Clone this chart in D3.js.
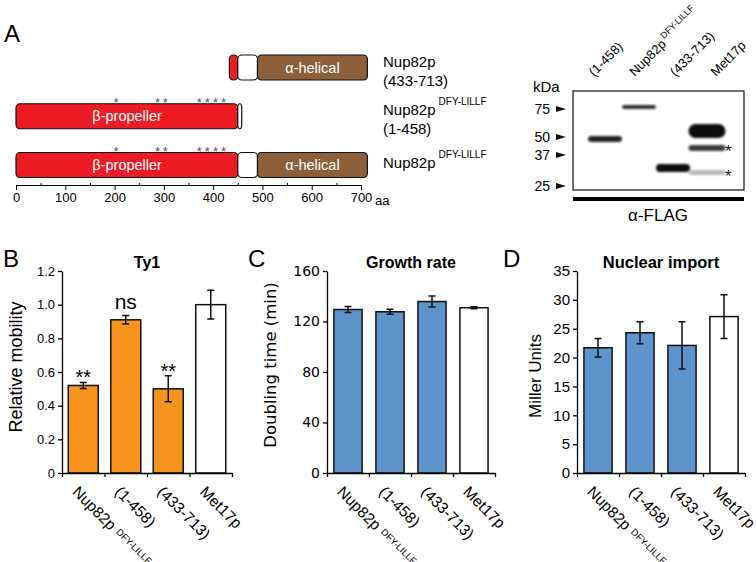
<!DOCTYPE html>
<html><head><meta charset="utf-8">
<script src="https://cdn.jsdelivr.net/npm/d3@7"></script>
<style>
body{margin:0;background:#fff;}
svg{display:block;font-family:"Liberation Sans",Arial,sans-serif;}
</style></head><body>
<svg id="fig" width="756" height="562"></svg>
<script>
// ================= DATA =================
// Panel A: domain architecture
const aaTicks = [0,100,200,300,400,500,600,700];
const aaMinorTicks = [50,150,250,350,450,550,650];
const constructRows = [0,1,2];
const domainRow   = [0,0,0,1,1,2,2,2];
const domainType  = ["propeller","linker","helical","propeller","linker","propeller","linker","helical"];
const domainStart = [433,450,490,1,450,1,450,490];
const domainEnd   = [450,490,713,450,458,450,490,713];
const domainLabel = ["","","α-helical","β-propeller","","β-propeller","","α-helical"];
const mutationSites = [203,287,303,372,388,405,421];
const mutationRows = [1,2];
const rowLabelLine1 = ["Nup82p","Nup82p","Nup82p"];
const rowLabelSup   = ["","DFY-LILLF","DFY-LILLF"];
const rowLabelLine2 = ["(433-713)","(1-458)",""];

// Panel A: western blot
const lanes = ["(1-458)","Nup82p","(433-713)","Met17p"];
const laneSup = ["","DFY-LILLF","",""];
const markerKDa = [75,50,37,25];
const bandLane    = [0,1,2,3,3,3];
const bandHighKDa = [50.7,79.4,33.0,60.4,43.7,30.6];
const bandLowKDa  = [46.0,75.0,29.8,49.2,39.6,28.7];
const bandSignal  = [0.9,0.85,1.0,1.0,0.8,0.28];
const bandStar    = [false,false,false,false,true,true];

// Panels B-D
const categories = ["Nup82p","(1-458)","(433-713)","Met17p"];
const categorySup = ["DFY-LILLF","","",""];
const isControl = [false,false,false,true];

const ty1Values = [0.52,0.91,0.50,1.00];
const ty1Errors = [0.018,0.025,0.077,0.085];
const ty1Sig    = ["**","ns","**",""];
const ty1Ticks  = [0,0.2,0.4,0.6,0.8,1.0,1.2];

const growthValues = [129.5,127.7,135.8,130.9];
const growthErrors = [2.4,2.0,4.3,0.8];
const growthTicks  = [0,40,80,120,160];

const importValues = [21.7,24.3,22.1,27.1];
const importErrors = [1.6,1.9,4.1,3.8];
const importTicks  = [0,5,10,15,20,25,30,35];

// ================= DRAW =================
const svg = d3.select("#fig");
const RED="#ED1C24", BROWN="#8D5F3B", ORANGE="#F7941D", BLUE="#5F93CB";

// panel letters
[["A",4,42],["B",3,267],["C",248,267],["D",503,267]].forEach(([t,x,y])=>{
  svg.append("text").attr("x",x).attr("y",y).attr("font-size",24).text(t);
});

// ---- domain diagram ----
const aa = d3.scaleLinear().domain([0,700]).range([16,361]);
const rowY = d3.scalePoint().domain(constructRows).range([67.5,165]);
const rowH = 25;
const gA = svg.append("g");
const fillFor = t => t==="propeller"?RED:(t==="helical"?BROWN:"#fff");
domainRow.forEach((r,i)=>{
  const s = domainStart[i]===1 ? 0 : domainStart[i];
  gA.append("rect")
    .attr("x",aa(s)).attr("y",rowY(r)-rowH/2)
    .attr("width",aa(domainEnd[i])-aa(s))
    .attr("height",rowH).attr("rx",4).attr("ry",4)
    .attr("fill",fillFor(domainType[i])).attr("stroke","#111").attr("stroke-width",1.2);
  if(domainLabel[i]){
    gA.append("text").attr("x",aa((domainStart[i]+domainEnd[i])/2))
      .attr("y",rowY(r)+5).attr("text-anchor","middle").attr("fill","#fff")
      .attr("font-size",14.5).text(domainLabel[i]);
  }
});
mutationRows.forEach(r=>{
  mutationSites.forEach(s=>{
    gA.append("text").attr("x",aa(s)).attr("y",rowY(r)-rowH/2+3)
      .attr("text-anchor","middle").attr("font-size",13).attr("fill","#555").text("*");
  });
});
// aa axis
const axA = gA.append("g").attr("transform","translate(0,185)")
  .call(d3.axisBottom(aa).tickValues(aaTicks).tickSize(5).tickSizeOuter(0).tickPadding(3));
axA.selectAll("text").attr("font-size",13).attr("font-family","Liberation Sans,Arial,sans-serif");
axA.select(".domain").attr("stroke-width",1.2);
gA.append("g").attr("transform","translate(0,183)")
  .call(d3.axisBottom(aa).tickValues(aaMinorTicks).tickSize(3).tickFormat(""))
  .select(".domain").remove();
gA.append("text").attr("x",aa(700)+14).attr("y",204.5).attr("font-size",13).text("aa");

// row labels
constructRows.forEach(r=>{
  const y1 = rowY(r) - (rowLabelLine2[r] ? 1 : -3);
  const t = gA.append("text").attr("x",383).attr("y",y1).attr("font-size",15);
  t.append("tspan").text(rowLabelLine1[r]);
  if(rowLabelSup[r]) t.append("tspan").attr("dx",3).attr("dy",-10).attr("font-size",10).text(rowLabelSup[r]);
  if(rowLabelLine2[r]) gA.append("text").attr("x",383).attr("y",y1+19).attr("font-size",15).text(rowLabelLine2[r]);
});

// ---- western blot ----
const gW = svg.append("g");
const mw = d3.scaleLog().domain([25,37,50,75]).range([186,155,137,109]);
const laneX = d3.scalePoint().domain(d3.range(lanes.length)).range([605,707]);
const laneLabelX = d3.scalePoint().domain(d3.range(lanes.length)).range([594,716]);
const defs = svg.append("defs");
defs.append("filter").attr("id","blur").attr("x","-20%").attr("y","-50%").attr("width","140%").attr("height","200%")
  .append("feGaussianBlur").attr("stdDeviation",0.9);
gW.append("rect").attr("x",573).attr("y",91).attr("width",171).attr("height",99)
  .attr("fill","#fff").attr("stroke","#222").attr("stroke-width",1.3);
bandLane.forEach((l,i)=>{
  const y0 = mw(bandHighKDa[i]), y1 = mw(bandLowKDa[i]);
  const w = l===3 ? 37 : 34;
  gW.append("rect").attr("x",laneX(l)-w/2).attr("y",y0).attr("width",w).attr("height",y1-y0)
    .attr("rx",Math.min(8,(y1-y0)/2)).attr("ry",(y1-y0)/2)
    .attr("fill","#111").attr("opacity",bandSignal[i]).attr("filter","url(#blur)");
  if(bandStar[i]) gW.append("text").attr("x",laneX(l)+18).attr("y",(y0+y1)/2+9)
    .attr("font-size",17).attr("fill","#222").text("*");
});
gW.append("text").attr("x",533).attr("y",92).attr("font-size",15).text("kDa");
markerKDa.forEach(k=>{
  gW.append("text").attr("x",550).attr("y",mw(k)+5).attr("text-anchor","end").attr("font-size",14).text(k);
  gW.append("path").attr("d",`M556,${mw(k)-3}L566,${mw(k)}L556,${mw(k)+3}Z`).attr("fill","#111");
});
lanes.forEach((n,i)=>{
  const t = gW.append("text").attr("transform",`translate(${laneLabelX(i)},77) rotate(-45)`).attr("font-size",13);
  t.append("tspan").text(n);
  if(laneSup[i]) t.append("tspan").attr("dx",2).attr("dy",-6).attr("font-size",9).text(laneSup[i]);
});
gW.append("rect").attr("x",573).attr("y",197).attr("width",171).attr("height",4).attr("fill","#000");
gW.append("text").attr("x",658).attr("y",221).attr("text-anchor","middle").attr("font-size",17).text("α-FLAG");

// ---- bar panels ----
function barPanel(cfg){
  const g = svg.append("g");
  const y = d3.scaleLinear().domain([0,cfg.ticks[cfg.ticks.length-1]]).range([473,271]);
  const x = d3.scaleBand().domain(d3.range(categories.length)).range([cfg.x0,cfg.x1])
    .paddingInner(cfg.pad).paddingOuter(cfg.pad/2);
  const xb = d3.scaleLinear().domain([0,categories.length]).range([cfg.x0,cfg.x1]);
  // bars
  cfg.values.forEach((v,i)=>{
    g.append("rect").attr("x",x(i)).attr("y",y(v)).attr("width",x.bandwidth()).attr("height",y(0)-y(v))
      .attr("fill",isControl[i]?"#fff":cfg.color).attr("stroke","#111").attr("stroke-width",1.5);
    const cx = x(i)+x.bandwidth()/2, e = cfg.errors[i];
    g.append("path").attr("d",`M${cx},${y(v+e)}V${y(v-e)}M${cx-3.5},${y(v+e)}H${cx+3.5}M${cx-3.5},${y(v-e)}H${cx+3.5}`)
      .attr("stroke","#111").attr("stroke-width",1.5).attr("fill","none");
    if(cfg.sig && cfg.sig[i]){
      const s = cfg.sig[i];
      g.append("text").attr("x",cx).attr("y",s==="ns"? y(v+e)-7 : y(v+e)+2)
        .attr("text-anchor","middle").attr("font-size",s==="ns"?21:20).text(s);
    }
  });
  // axes
  const ya = g.append("g").attr("transform",`translate(${cfg.x0},0)`)
    .call(d3.axisLeft(y).tickValues(cfg.ticks).tickSize(4).tickSizeOuter(0).tickPadding(3).tickFormat(cfg.fmt));
  ya.selectAll("text").attr("font-size",cfg.tickFont).attr("font-family",cfg.tickFamily);
  ya.selectAll("line,path").attr("stroke-width",1.3);
  const xa = g.append("g").attr("transform","translate(0,473)")
    .call(d3.axisBottom(xb).tickValues(d3.range(categories.length+1)).tickSize(4).tickSizeOuter(0).tickFormat(""));
  xa.selectAll("line,path").attr("stroke-width",1.3);
  // category labels
  categories.forEach((c,i)=>{
    const cx = x(i)+x.bandwidth()/2;
    const t = g.append("text").attr("transform",`translate(${cx-3},484) rotate(45)`)
      .attr("font-size",15.5).attr("dy","0.8em");
    t.append("tspan").text(c);
    if(categorySup[i]) t.append("tspan").attr("dx",5).attr("dy",-3).attr("font-size",9.5).text(categorySup[i]);
  });
  // title
  g.append("text").attr("x",(cfg.x0+cfg.x1)/2).attr("y",268).attr("text-anchor","middle")
    .attr("font-weight","bold").attr("font-size",cfg.titleSize).text(cfg.title);
  // y label
  g.append("text").attr("transform",`translate(${cfg.ylx},${cfg.yly}) rotate(-90)`)
    .attr("text-anchor","middle").attr("font-size",cfg.ylSize).attr("font-family",cfg.ylFamily).text(cfg.ylabel);
}

barPanel({x0:62,x1:232,pad:0.294,values:ty1Values,errors:ty1Errors,ticks:ty1Ticks,sig:ty1Sig,
  color:ORANGE,fmt:d=>d===0?"0":d3.format(".1f")(d),tickFont:13,tickFamily:"Liberation Sans,Arial,sans-serif",
  title:"Ty1",titleSize:16,ylabel:"Relative mobility",ylx:22,yly:367,ylSize:18,ylFamily:"Liberation Sans,Arial,sans-serif"});
barPanel({x0:327,x1:495,pad:0.33,values:growthValues,errors:growthErrors,ticks:growthTicks,
  color:BLUE,fmt:d3.format("d"),tickFont:14,tickFamily:"DejaVu Sans,sans-serif",
  title:"Growth rate",titleSize:16,ylabel:"Doubling time (min)",ylx:276,yly:365,ylSize:16.5,ylFamily:"DejaVu Sans,sans-serif"});
barPanel({x0:577,x1:745,pad:0.33,values:importValues,errors:importErrors,ticks:importTicks,
  color:BLUE,fmt:d3.format("d"),tickFont:15,tickFamily:"Liberation Sans,Arial,sans-serif",
  title:"Nuclear import",titleSize:16.5,ylabel:"Miller Units",ylx:541,yly:376,ylSize:17,ylFamily:"Liberation Sans,Arial,sans-serif"});
</script>
</body></html>
